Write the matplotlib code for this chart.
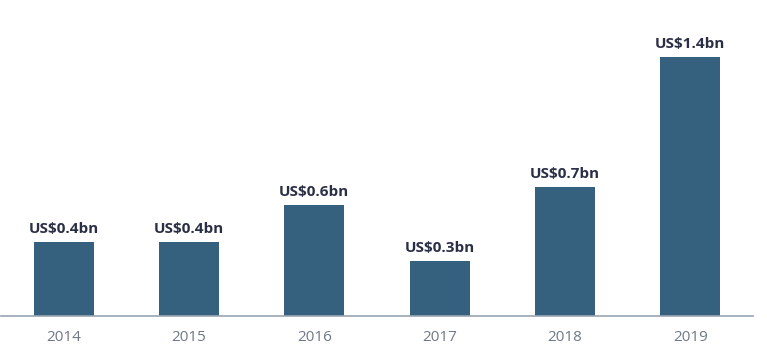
import matplotlib
matplotlib.use("Agg")
import matplotlib.pyplot as plt

years = ["2014", "2015", "2016", "2017", "2018", "2019"]
values = [0.4, 0.4, 0.6, 0.3, 0.7, 1.4]
labels = ["US$0.4bn", "US$0.4bn", "US$0.6bn", "US$0.3bn", "US$0.7bn", "US$1.4bn"]

plt.rcParams['font.family'] = ['Open Sans', 'DejaVu Sans']

W, H = 767, 364
fig = plt.figure(figsize=(W / 100, H / 100), dpi=100)
ax = fig.add_axes([1 / W, (H - 316) / H, 752 / W, 296 / H])

x = list(range(len(years)))
ax.bar(x, values, width=0.48, color="#35617f")
for xi, v, lab in zip(x, values, labels):
    ax.annotate(lab, (xi, v), xytext=(0, 4), textcoords="offset points",
                ha="center", va="bottom", fontsize=11, fontweight="bold",
                color="#2a2f45")

ax.set_xlim(-0.5, 5.5)
ax.set_ylim(0, 1.6)
ax.set_xticks(x)
ax.set_xticklabels(years, fontsize=11, color="#6f7785")
ax.tick_params(axis="x", length=0, pad=10)
ax.set_yticks([])
for s in ["top", "right", "left"]:
    ax.spines[s].set_visible(False)
ax.spines["bottom"].set_color("#9aa6b2")
ax.spines["bottom"].set_linewidth(1.2)

fig.savefig("out.png", dpi=100)
